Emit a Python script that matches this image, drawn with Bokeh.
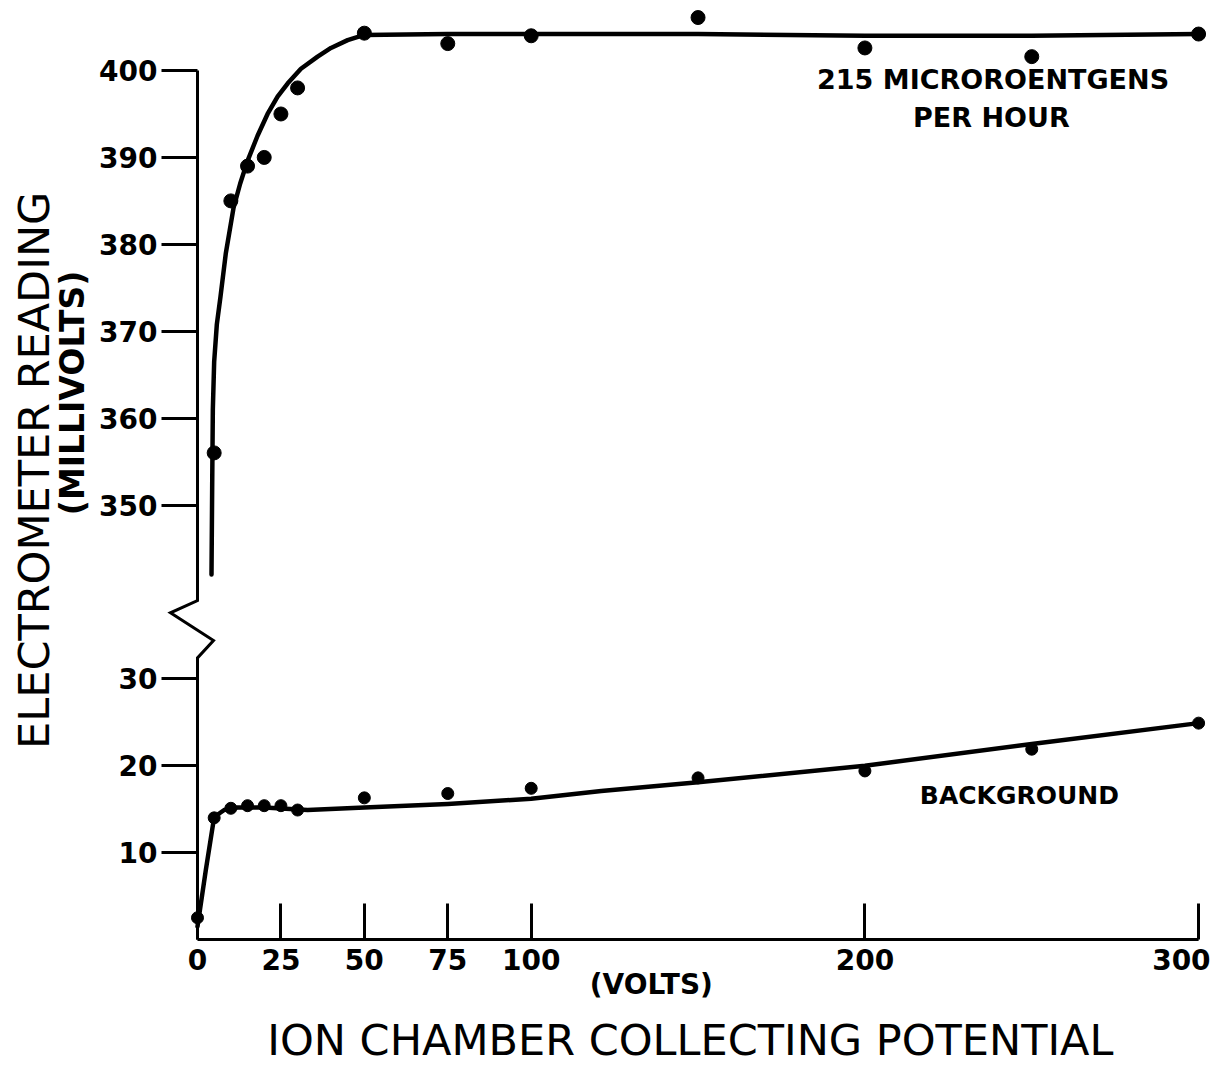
import numpy as np
from bokeh.plotting import figure
from bokeh.models import Range1d, FixedTicker, LinearAxis, Label
from bokeh.embed import file_html
from bokeh.resources import INLINE

# ---------------- data ----------------
volt_ticks = [0, 25, 50, 75, 100, 200, 300]
low_mv_ticks = [10, 20, 30]
high_mv_ticks = [350, 360, 370, 380, 390, 400]
BREAK_OFFSET = 300  # upper block drawn 300 mV lower (broken axis)

# 215 microroentgens per hour - measured points
rad_volts = [5, 10, 15, 20, 25, 30, 50, 75, 100, 150, 200, 250, 300]
rad_mv = [356, 385, 389, 390, 395, 398, 404.3, 403.1, 404, 406.1, 402.6, 401.6, 404.2]
# 215 microroentgens per hour - drawn curve
rad_curve_volts = [4.2, 4.4, 4.6, 5.0, 5.8, 6.9, 8.5, 10.8, 12.8, 15, 18, 21, 24, 27, 31, 36, 40,
                   45, 50, 75, 100, 150, 200, 250, 300]
rad_curve_mv = [342, 352, 361, 366.5, 370.8, 374, 379, 384.2, 387, 389.6, 392.5, 395, 397, 398.5,
                400.2, 401.6, 402.6, 403.5, 404.1, 404.2, 404.2, 404.2, 404.0, 404.0, 404.2]

# background - measured points
bg_volts = [0, 5, 10, 15, 20, 25, 30, 50, 75, 100, 150, 200, 250, 300]
bg_mv = [2.5, 14.0, 15.1, 15.4, 15.4, 15.4, 14.9, 16.3, 16.8, 17.4, 18.6, 19.4, 21.9, 24.9]
# background - drawn curve
bg_curve_volts = [0, 2.5, 5, 8, 12, 20, 33, 50, 75, 100, 121, 150, 200, 250, 300]
bg_curve_mv = [1.5, 8, 14.1, 14.9, 15.2, 15.2, 14.9, 15.2, 15.6, 16.2, 17.1, 18.1, 20.0, 22.5, 24.9]

# axis-break symbol (volts, mV in lower-block units)
break_x = [0, 0, -8.1, 4.8, 0, 0]
break_y = [100, 39.0, 37.6, 34.4, 32.4, 0]

# ---------------- figure ----------------
W, H = 1222, 1067
p = figure(width=W, height=H, output_backend="svg", toolbar_location=None,
           x_range=Range1d(-59.03, 307.16), y_range=Range1d(-14.73, 108.06),
           x_axis_type=None, y_axis_type=None, min_border=0)
p.outline_line_color = None
p.background_fill_color = "white"
p.border_fill_color = "white"

FONT = "DejaVu Sans"
INK = "black"

last_tick = volt_ticks[-1]
xaxis = LinearAxis(fixed_location=0, ticker=FixedTicker(ticks=volt_ticks),
                   major_label_overrides={last_tick: ""},
                   axis_line_color=None, major_tick_in=36, major_tick_out=0,
                   major_tick_line_width=3, major_tick_line_color=INK,
                   minor_tick_line_color=None,
                   major_label_text_font=FONT, major_label_text_font_style="bold",
                   major_label_text_font_size="28px", major_label_text_color=INK,
                   major_label_standoff=9)
p.add_layout(xaxis, "below")

y_plot_ticks = low_mv_ticks + [v - BREAK_OFFSET for v in high_mv_ticks]
overrides = {v - BREAK_OFFSET: str(v) for v in high_mv_ticks}
overrides.update({v: str(v) for v in low_mv_ticks})
yaxis = LinearAxis(fixed_location=0, ticker=FixedTicker(ticks=y_plot_ticks),
                   major_label_overrides=overrides,
                   axis_line_color=None, major_tick_in=0, major_tick_out=36,
                   major_tick_line_width=3, major_tick_line_color=INK,
                   minor_tick_line_color=None,
                   major_label_text_font=FONT, major_label_text_font_style="bold",
                   major_label_text_font_size="28px", major_label_text_color=INK,
                   major_label_standoff=4)
p.add_layout(yaxis, "left")

# axis lines (x axis and broken y axis)
p.line(x=[volt_ticks[0], volt_ticks[-1]], y=[0, 0], line_width=3, line_color=INK)
p.line(x=break_x, y=break_y, line_width=3, line_color=INK, line_join="miter")

# curves
p.line(x=rad_curve_volts, y=[v - BREAK_OFFSET for v in rad_curve_mv],
       line_width=4.5, line_color=INK, line_join="round", line_cap="round")
p.line(x=bg_curve_volts, y=bg_curve_mv,
       line_width=4.5, line_color=INK, line_join="round", line_cap="round")

# points
p.scatter(x=rad_volts, y=[v - BREAK_OFFSET for v in rad_mv], marker="circle",
          size=14, fill_color=INK, line_color=INK)
p.scatter(x=bg_volts, y=bg_mv, marker="circle", size=12, fill_color=INK, line_color=INK)

# texts
def lab(x, y, text, size, bold=True, angle=0.0, align="center", baseline="middle"):
    p.add_layout(Label(x=x, y=y, text=text, text_align=align, text_baseline=baseline,
                       text_font=FONT, text_font_style="bold" if bold else "normal",
                       text_font_size=size, text_color=INK, angle=angle))

# last x tick label sits left of its tick (as drawn in the original)
p.add_layout(Label(x=last_tick, y=0, text=str(last_tick), text_align="right",
                   text_baseline="top", x_offset=12, y_offset=-9,
                   text_font=FONT, text_font_style="bold", text_font_size="28px",
                   text_color=INK))

lab(238.4, 99.0, "215 MICROROENTGENS", "27px")
lab(237.9, 94.6, "PER HOUR", "27px")
lab(246.3, 16.6, "BACKGROUND", "25px")
lab(136.0, -5.2, "(VOLTS)", "28px")
lab(147.7, -11.6, "ION CHAMBER COLLECTING POTENTIAL", "43px", bold=False)
lab(-49.1, 54.0, "ELECTROMETER READING", "43px", bold=False, angle=np.pi / 2)
lab(-37.5, 62.9, "(MILLIVOLTS)", "33px", angle=np.pi / 2)

open("out.html", "w").write(file_html(p, INLINE))
